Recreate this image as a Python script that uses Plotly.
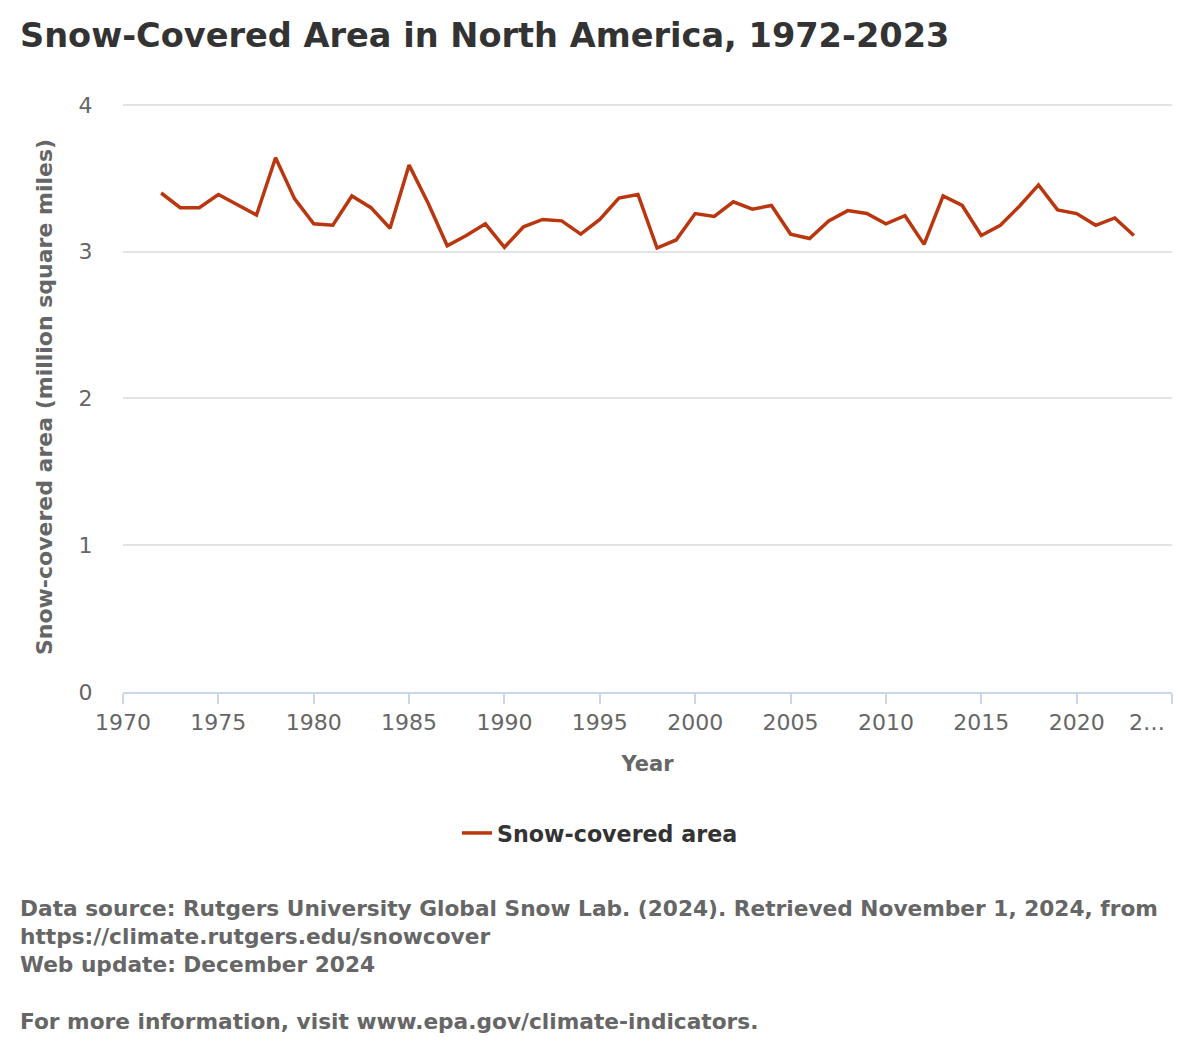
import plotly.graph_objects as go

years = list(range(1972, 2024))
snow_area = [
    3.40, 3.30, 3.30, 3.39, 3.32, 3.25, 3.64, 3.36, 3.19, 3.18,
    3.38, 3.30, 3.16, 3.59, 3.33, 3.04, 3.11, 3.19, 3.03, 3.17,
    3.22, 3.21, 3.12, 3.22, 3.365, 3.39, 3.025, 3.08, 3.26, 3.24,
    3.34, 3.29, 3.315, 3.12, 3.09, 3.21, 3.28, 3.26, 3.19, 3.245,
    3.05, 3.38, 3.315, 3.11, 3.18, 3.31, 3.455, 3.285, 3.26, 3.18,
    3.23, 3.11,
]
x_tick_vals = [1970, 1975, 1980, 1985, 1990, 1995, 2000, 2005, 2010, 2015, 2020, 2025]
x_tick_text = ["1970", "1975", "1980", "1985", "1990", "1995", "2000", "2005", "2010", "2015", "2020", ""]
last_tick_label = "2…"
y_tick_vals = [0, 1, 2, 3, 4]

W, H = 1179, 1058
Y_TOP = 4.02
L, R, B = 123, 1172, 692
T = 105 - (Y_TOP - 4) * (692 - 105) / 4
FONT = "DejaVu Sans"

def px(x):
    return (x - L) / (R - L)

def py(y):
    return (B - y) / (B - T)

fig = go.Figure()
fig.add_trace(go.Scatter(
    x=years, y=snow_area, mode="lines", name="<b>Snow-covered area</b>",
    line=dict(color="#ba360e", width=3.5),
))

fig.update_layout(
    width=W, height=H,
    margin=dict(l=L, r=W - R, t=T, b=H - B),
    paper_bgcolor="white", plot_bgcolor="white",
    font=dict(family=FONT, color="#666666"),
    title=dict(
        text="<b>Snow-Covered Area in North America, 1972-2023</b>",
        x=20 / W, xanchor="left", y=1 - 35 / H, yanchor="middle",
        font=dict(size=33.6, color="#333333", family=FONT),
    ),
    showlegend=True,
    legend=dict(
        orientation="h", x=px(600), xanchor="center",
        y=py(833), yanchor="middle",
        font=dict(size=22.2, color="#333333", family=FONT),
        itemwidth=30,
    ),
    xaxis=dict(
        range=[1970, 2025], tickmode="array", tickvals=x_tick_vals, ticktext=x_tick_text,
        showgrid=False, showline=True, linecolor="#ccd6eb", linewidth=2,
        ticks="outside", ticklen=10, tickcolor="#ccd6eb", tickwidth=2,
        tickfont=dict(size=22, color="#666666", family=FONT),
        title=dict(text="<b>Year</b>", font=dict(size=21, color="#666666", family=FONT), standoff=22),
        zeroline=False,
    ),
    yaxis=dict(
        range=[0, Y_TOP], tickmode="array", tickvals=y_tick_vals,
        showgrid=True, gridcolor="#e3e3e3", gridwidth=1.5,
        showline=False, zeroline=False,
        ticks="outside", ticklen=25, tickcolor="rgba(0,0,0,0)",
        tickfont=dict(size=22, color="#666666", family=FONT),
        title=dict(text="<b>Snow-covered area (million square miles)</b>",
                   font=dict(size=22, color="#666666", family=FONT), standoff=19),
    ),
)

fig.add_annotation(
    xref="x", yref="paper", x=2025, y=py(722), xanchor="right", yanchor="middle",
    xshift=-5, showarrow=False, text=last_tick_label,
    font=dict(size=22, color="#666666", family=FONT),
)

fig.add_annotation(
    xref="paper", yref="paper", x=px(18), y=py(894), xanchor="left", yanchor="top",
    align="left", showarrow=False,
    text=("<b>Data source: Rutgers University Global Snow Lab. (2024). Retrieved November 1, 2024, from<br>"
          "https://climate.rutgers.edu/snowcover<br>"
          "Web update: December 2024<br><br>"
          "For more information, visit www.epa.gov/climate-indicators.</b>"),
    font=dict(size=21.7, color="#666666", family=FONT),
)

fig.write_html("out.html")
